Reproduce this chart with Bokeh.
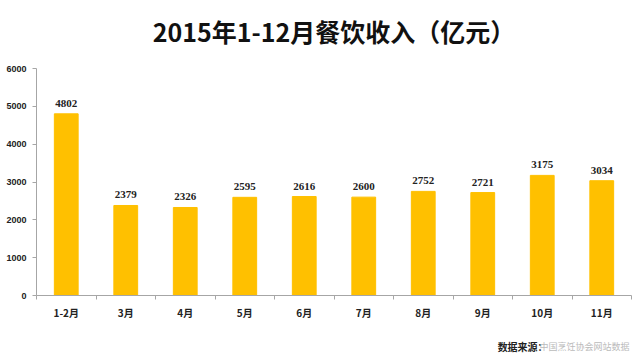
from bokeh.plotting import figure
from bokeh.models import Range1d, FixedTicker, ColumnDataSource, LabelSet
from bokeh.layouts import column
from bokeh.core.properties import value
from bokeh.embed import file_html
from bokeh.resources import INLINE

title_text = "2015年1-12月餐饮收入（亿元）"
categories = ["1-2月", "3月", "4月", "5月", "6月", "7月", "8月", "9月", "10月", "11月"]
values = [4802, 2379, 2326, 2595, 2616, 2600, 2752, 2721, 3175, 3034]
y_ticks = [0, 1000, 2000, 3000, 4000, 5000, 6000]
source_label = "数据来源："
source_name = "中国烹饪协会网站数据"

# title strip
t = figure(width=640, height=60, output_backend="svg", toolbar_location=None,
           x_range=Range1d(0, 640), y_range=Range1d(0, 60),
           min_border=0, outline_line_color=None)
t.axis.visible = False
t.grid.visible = False
t.text(x=[320], y=[30], text=[title_text], text_font=value("Noto Sans CJK SC"),
       text_font_size="25px", text_font_style="bold", text_color="#111111",
       text_align="center", text_baseline="middle")

xs = list(range(len(categories)))
src = ColumnDataSource(dict(x=xs, top=values, lab=[str(v) for v in values]))

p = figure(width=640, height=277, output_backend="svg", toolbar_location=None,
           x_range=Range1d(-0.5, len(categories) - 0.5), y_range=Range1d(0, 6000),
           min_border_left=36, min_border_right=9, min_border_bottom=42, min_border_top=8)
p.outline_line_color = None
p.grid.visible = False

p.vbar(x="x", top="top", width=0.4, source=src, color="#FFC000")
p.add_layout(LabelSet(x="x", y="top", text="lab", source=src, text_align="center",
                      y_offset=7, text_font="Liberation Sans", text_font_size="11px",
                      text_font_style="bold", text_color="#222222"))

p.yaxis.ticker = FixedTicker(ticks=y_ticks)
p.yaxis.axis_line_color = "#A6A6A6"
p.yaxis.major_tick_line_color = "#A6A6A6"
p.yaxis.major_tick_out = 4
p.yaxis.major_tick_in = 0
p.yaxis.minor_tick_line_color = None
p.yaxis.major_label_text_font = "Liberation Sans"
p.yaxis.major_label_text_font_size = "9px"
p.yaxis.major_label_text_font_style = "bold"
p.yaxis.major_label_text_color = "#222222"
p.yaxis.major_label_standoff = 6

p.xaxis.ticker = FixedTicker(ticks=xs, minor_ticks=[i - 0.5 for i in range(len(categories) + 1)])
p.xaxis.major_label_overrides = {i: c for i, c in enumerate(categories)}
p.xaxis.axis_line_color = "#A6A6A6"
p.xaxis.major_tick_line_color = None
p.xaxis.minor_tick_line_color = "#A6A6A6"
p.xaxis.minor_tick_out = 4
p.xaxis.minor_tick_in = 0
p.xaxis.major_label_text_font = "Noto Sans CJK SC"
p.xaxis.major_label_text_font_size = "10px"
p.xaxis.major_label_text_font_style = "bold"
p.xaxis.major_label_text_color = "#222222"
p.xaxis.major_label_standoff = 3

s = figure(width=640, height=20, output_backend="svg", toolbar_location=None,
           x_range=Range1d(0, 640), y_range=Range1d(0, 20),
           min_border=0, outline_line_color=None)
s.axis.visible = False
s.grid.visible = False
s.text(x=[496], y=[11], text=[source_label], text_font=value("Noto Sans CJK SC"),
       text_font_size="10px", text_font_style="bold", text_color="#222222",
       text_baseline="middle")
s.text(x=[541], y=[11], text=[source_name], text_font=value("Noto Sans CJK SC"),
       text_font_size="9px", text_color="#BBBBBB", text_baseline="middle")

layout = column(t, p, s, spacing=0)
open("out.html", "w").write(file_html(layout, INLINE))
